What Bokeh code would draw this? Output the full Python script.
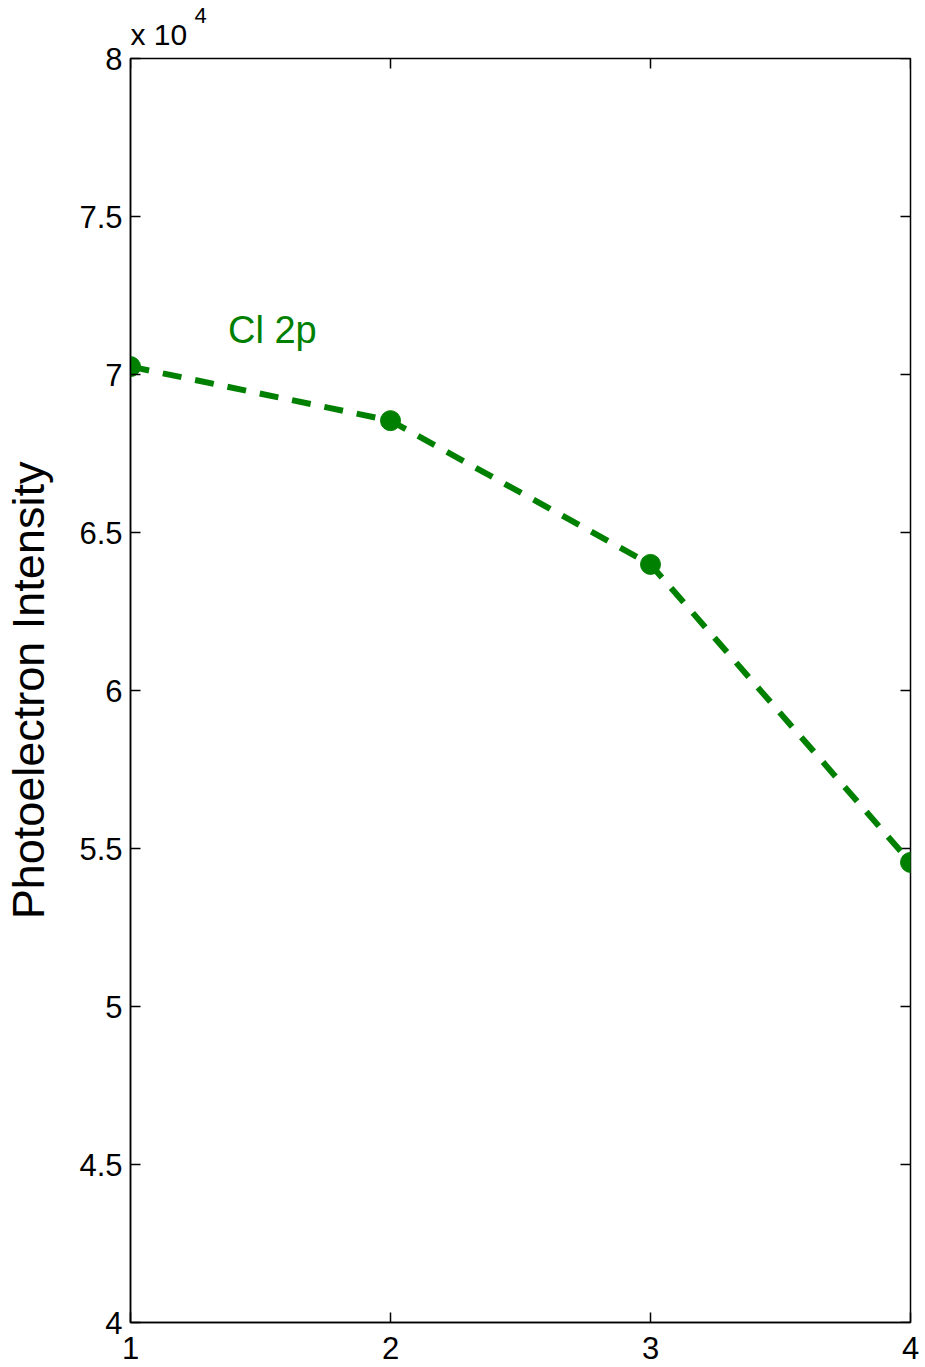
import math
from bokeh.plotting import figure
from bokeh.models import FixedTicker, Label, Range1d, CustomJSTickFormatter, Title
from bokeh.embed import file_html
from bokeh.resources import INLINE

# Cl 2p photoelectron intensity at four sample positions
positions = [1, 2, 3, 4]
intensity = [70250, 68540, 63990, 54560]

x_ticks = [1, 2, 3, 4]
y_ticks = [40000, 45000, 50000, 55000, 60000, 65000, 70000, 75000, 80000]
series_label = "Cl 2p"
y_title = "Photoelectron Intensity"

FONT = "Liberation Sans"
GREEN = "#008000"
X0, X1 = 1, 4
Y0, Y1 = 40000, 80000

p = figure(width=925, height=1367, output_backend="svg", toolbar_location=None,
           x_range=Range1d(X0, X1), y_range=Range1d(Y0, Y1),
           min_border_left=129, min_border_right=15,
           min_border_top=58, min_border_bottom=45)

p.background_fill_color = "white"
p.border_fill_color = "white"
p.outline_line_color = "black"
p.outline_line_width = 1.5
p.grid.visible = False

# exponent header above the frame: "x 10" with a raised "4"
p.title.text = "4"
p.title.align = "left"
p.title.offset = 64
p.title.text_font = FONT
p.title.text_font_size = "22px"
p.title.text_font_style = "normal"
p.title.text_color = "black"
p.title.standoff = -28
p.add_layout(Title(text="x 10", align="left", offset=0, text_font=FONT,
                   text_font_size="30px", text_font_style="normal",
                   text_color="black", standoff=15), "above")

# bottom axis
xa = p.xaxis[0]
xa.ticker = FixedTicker(ticks=x_ticks)
xa.major_tick_in = 10
xa.major_tick_out = 0
xa.minor_tick_line_color = None
xa.axis_line_width = 1.5
xa.major_tick_line_width = 1.5
xa.major_label_text_font = FONT
xa.major_label_text_font_size = "31px"
xa.major_label_text_color = "black"
xa.major_label_standoff = 14

# left axis, labelled in units of 10^4
ya = p.yaxis[0]
ya.ticker = FixedTicker(ticks=y_ticks)
ya.formatter = CustomJSTickFormatter(code="return (tick / 1e4).toString();")
ya.major_tick_in = 10
ya.major_tick_out = 0
ya.minor_tick_line_color = None
ya.axis_line_width = 1.5
ya.major_tick_line_width = 1.5
ya.major_label_text_font = FONT
ya.major_label_text_font_size = "31px"
ya.major_label_text_color = "black"
ya.major_label_standoff = 8
ya.axis_label = y_title
ya.axis_label_text_font = FONT
ya.axis_label_text_font_size = "45px"
ya.axis_label_text_font_style = "normal"
ya.axis_label_text_color = "black"
ya.axis_label_standoff = 22

# mirrored inward tick marks on the top and right edges of the box
p.ray(x=x_ticks, y=[Y1] * len(x_ticks), length=10, length_units="screen",
      angle=-math.pi / 2, line_color="black", line_width=1.5)
p.ray(x=[X1] * len(y_ticks), y=y_ticks, length=10, length_units="screen",
      angle=math.pi, line_color="black", line_width=1.5)

# data series
p.line(positions, intensity, line_color=GREEN, line_width=6, line_dash="19 14")
p.scatter(positions, intensity, size=20, fill_color=GREEN, line_color=GREEN)

p.add_layout(Label(x=1.375, y=71400, text=series_label, text_font=FONT,
                   text_font_size="38px", text_color=GREEN, text_baseline="middle",
                   text_align="left"))

open("out.html", "w").write(file_html(p, INLINE))
